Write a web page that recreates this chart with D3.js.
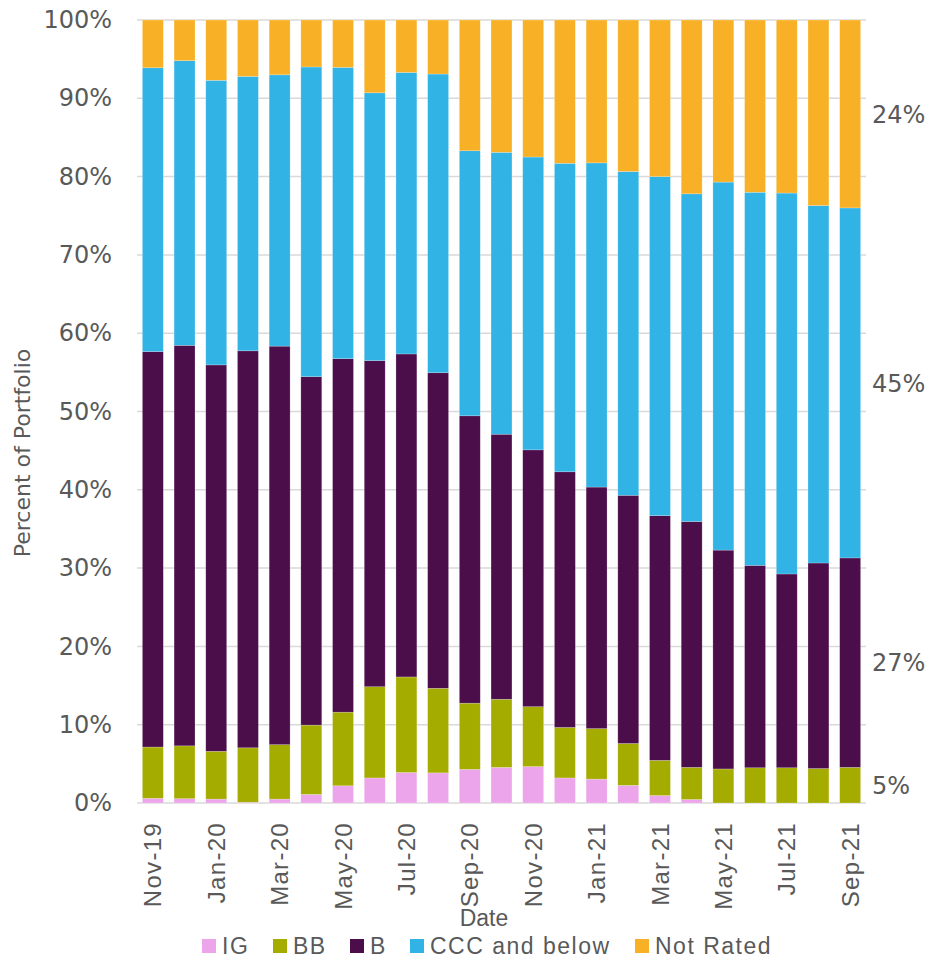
<!DOCTYPE html>
<html>
<head>
<meta charset="utf-8">
<script src="https://cdn.jsdelivr.net/npm/d3@7"></script>
<style>
    body { margin: 0; background: #fff; }
    svg { display: block; }
</style>
</head>
<body>
<div id="chart"></div>
<script>
// Données (en % du portefeuille)
const months = ["Nov-19", "Dec-19", "Jan-20", "Feb-20", "Mar-20", "Apr-20", "May-20", "Jun-20",
    "Jul-20", "Aug-20", "Sep-20", "Oct-20", "Nov-20", "Dec-20", "Jan-21", "Feb-21", "Mar-21",
    "Apr-21", "May-21", "Jun-21", "Jul-21", "Aug-21", "Sep-21"];
const igValues = [0.6, 0.55, 0.5, 0.1, 0.5, 1.1, 2.2, 3.2, 3.9, 3.85, 4.3, 4.55, 4.65, 3.2, 3.05, 2.25, 0.95, 0.45, 0, 0, 0, 0, 0];
const bbValues = [6.55, 6.75, 6.1, 6.95, 6.95, 8.85, 9.4, 11.65, 12.2, 10.8, 8.45, 8.7, 7.65, 6.45, 6.45, 5.35, 4.5, 4.1, 4.35, 4.5, 4.5, 4.4, 4.55];
const bValues = [50.5, 51.15, 49.35, 50.7, 50.9, 44.5, 45.15, 41.65, 41.25, 40.3, 36.7, 33.85, 32.8, 32.65, 30.85, 31.7, 31.25, 31.4, 27.95, 25.85, 24.75, 26.25, 26.75];
const cccValues = [36.25, 36.35, 36.35, 35.05, 34.65, 39.55, 37.2, 34.2, 35.95, 38.15, 33.85, 36.0, 37.4, 39.4, 41.4, 41.35, 43.3, 41.85, 47.0, 47.65, 48.65, 45.65, 44.7];
const nrValues = [6.1, 5.2, 7.7, 7.2, 7.0, 6.0, 6.05, 9.3, 6.7, 6.9, 16.7, 16.9, 17.5, 18.3, 18.25, 19.35, 20.0, 22.2, 20.7, 22.0, 22.1, 23.7, 24.0];
const seriesNames = ["IG", "BB", "B", "CCC and below", "Not Rated"];
const yTicks = [0, 10, 20, 30, 40, 50, 60, 70, 80, 90, 100];

const colors = ["#eca4ea", "#a5ac00", "#4b0e4b", "#31b3e6", "#f8b127"];
const textColor = "#595959";

// Table pour d3.stack
const rows = months.map((m, i) => ({
    month: m,
    "IG": igValues[i],
    "BB": bbValues[i],
    "B": bValues[i],
    "CCC and below": cccValues[i],
    "Not Rated": nrValues[i]
}));

const width = 930, height = 956;
const margin = { top: 20, right: 64, bottom: 153, left: 137 };

const svg = d3.select("#chart").append("svg")
    .attr("width", width)
    .attr("height", height);

const x = d3.scaleBand()
    .domain(months)
    .range([margin.left, width - margin.right])
    .paddingInner(0.34)
    .paddingOuter(0.17);

const y = d3.scaleLinear()
    .domain([0, 100])
    .range([height - margin.bottom, margin.top]);

// Grille horizontale
svg.append("g")
    .selectAll("line")
    .data(yTicks)
    .join("line")
    .attr("x1", margin.left)
    .attr("x2", width - margin.right)
    .attr("y1", d => y(d))
    .attr("y2", d => y(d))
    .attr("stroke", "#d9d9d9")
    .attr("stroke-width", 1.5);

// Barres empilées
const stacked = d3.stack().keys(seriesNames)(rows);

svg.append("g")
    .selectAll("g")
    .data(stacked)
    .join("g")
    .attr("fill", (d, i) => colors[i])
    .selectAll("rect")
    .data(d => d)
    .join("rect")
    .attr("x", d => x(d.data.month))
    .attr("width", x.bandwidth())
    .attr("y", d => y(d[1]))
    .attr("height", d => y(d[0]) - y(d[1]))
    .attr("stroke", "#ffffff")
    .attr("stroke-opacity", 0.35)
    .attr("stroke-width", 0.6);

// Axe Y
const yAxis = svg.append("g")
    .attr("transform", `translate(${margin.left - 25},0)`)
    .call(d3.axisLeft(y).tickValues(yTicks).tickFormat(d => d + "%").tickSize(0).tickPadding(0));
yAxis.select(".domain").remove();
yAxis.selectAll("text")
    .attr("fill", textColor)
    .style("font-family", "'DejaVu Sans', sans-serif")
    .style("font-size", "24px");

// Axe X : une étiquette sur deux
const xAxis = svg.append("g")
    .attr("transform", `translate(0,${height - margin.bottom})`)
    .call(d3.axisBottom(x).tickValues(months.filter((m, i) => i % 2 === 0)).tickSize(0));
xAxis.select(".domain").remove();
xAxis.selectAll("text")
    .attr("fill", textColor)
    .style("font-family", "'Liberation Sans', Arial, sans-serif")
    .style("font-size", "24px")
    .style("letter-spacing", "1.3px")
    .attr("text-anchor", "end")
    .attr("transform", "rotate(-90)")
    .attr("x", -19)
    .attr("y", 0)
    .attr("dy", "0.36em");

// Titres des axes
svg.append("text")
    .attr("transform", "translate(30,453) rotate(-90)")
    .attr("text-anchor", "middle")
    .attr("fill", textColor)
    .style("font-family", "'DejaVu Sans', sans-serif")
    .style("font-size", "22px")
    .text("Percent of Portfolio");

svg.append("text")
    .attr("x", 484)
    .attr("y", 926)
    .attr("text-anchor", "middle")
    .attr("fill", textColor)
    .style("font-family", "'Liberation Sans', Arial, sans-serif")
    .style("font-size", "23px")
    .text("Date");

// Étiquettes à droite : valeurs du dernier mois, au milieu de chaque segment
const lastIndex = months.length - 1;
svg.append("g")
    .selectAll("text")
    .data(stacked.filter(s => Math.round(s[lastIndex][1] - s[lastIndex][0]) > 0))
    .join("text")
    .attr("x", width - margin.right + 6)
    .attr("y", s => y((s[lastIndex][0] + s[lastIndex][1]) / 2))
    .attr("dy", "0.36em")
    .attr("fill", textColor)
    .style("font-family", "'DejaVu Sans', sans-serif")
    .style("font-size", "24px")
    .text(s => Math.round(s[lastIndex][1] - s[lastIndex][0]) + "%");

// Légende
const legendX = [202, 273, 350, 410, 635];
const legend = svg.append("g")
    .selectAll("g")
    .data(seriesNames)
    .join("g")
    .attr("transform", (d, i) => `translate(${legendX[i]},939)`);
legend.append("rect")
    .attr("width", 14)
    .attr("height", 14)
    .attr("fill", (d, i) => colors[i]);
legend.append("text")
    .attr("x", 20)
    .attr("y", 7)
    .attr("dy", "0.36em")
    .attr("fill", textColor)
    .style("font-family", "'Liberation Sans', Arial, sans-serif")
    .style("font-size", "23px")
    .style("letter-spacing", "1.5px")
    .text(d => d);
</script>
</body>
</html>
